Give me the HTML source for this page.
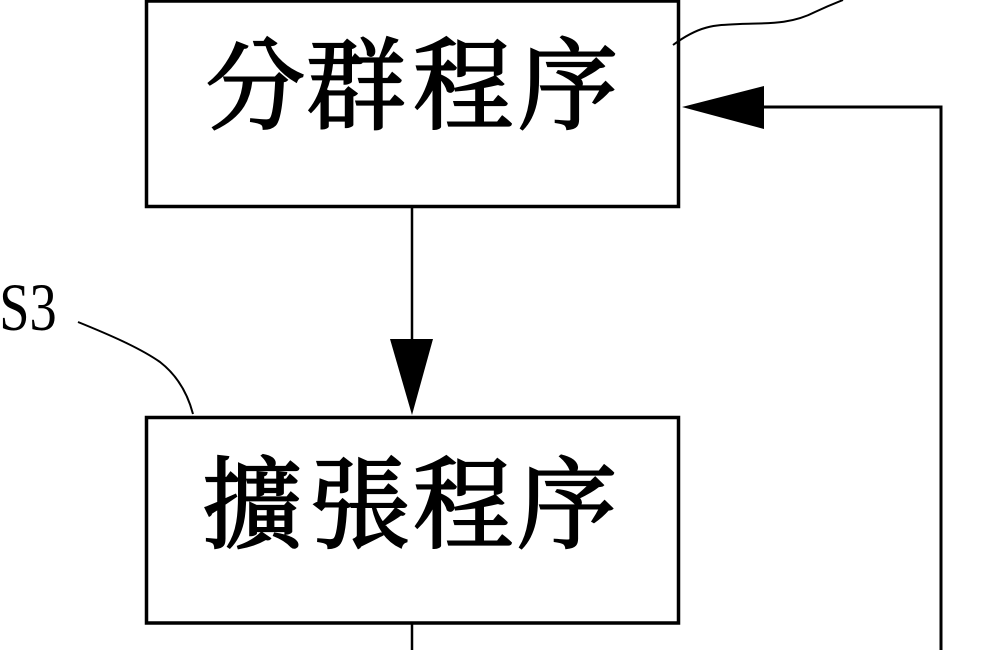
<!DOCTYPE html>
<html>
<head>
<meta charset="utf-8">
<style>
  html, body { margin: 0; padding: 0; background: #fff; }
  body { width: 994px; height: 650px; overflow: hidden; }
  svg { display: block; }
  .cjk { font-family: "Liberation Serif", "Noto Serif CJK TC", "Noto Serif CJK SC", serif; font-size: 100px; font-weight: 400; fill: #000; stroke: #000; stroke-width: 2.2px; }
  .lbl { font-family: "Liberation Serif", serif; font-size: 68px; fill: #000; }
</style>
</head>
<body>
<svg width="994" height="650" viewBox="0 0 994 650" xmlns="http://www.w3.org/2000/svg">
  <!-- Box 1 -->
  <rect x="146.5" y="1" width="532" height="205.5" fill="none" stroke="#000" stroke-width="3.5"/>
  <text class="cjk" x="205 306 413 518" y="121">分群程序</text>

  <!-- Leader top right -->
  <path d="M673,45 C700,25 715,25 740,24 C765,23 790,25 815,12 C830,5 838,2 843,0" fill="none" stroke="#000" stroke-width="2"/>

  <!-- Feedback line into box 1 -->
  <line x1="941" y1="650" x2="941" y2="107" stroke="#000" stroke-width="3"/>
  <line x1="942.5" y1="107" x2="760" y2="107" stroke="#000" stroke-width="3"/>
  <polygon points="682,107 764,86 764,129" fill="#000"/>

  <!-- Vertical arrow box1 -> box2 -->
  <line x1="412" y1="207" x2="412" y2="345" stroke="#000" stroke-width="2.5"/>
  <polygon points="390,339 433,339 412,415" fill="#000"/>

  <!-- S3 label -->
  <text class="lbl" x="-1" y="330" transform="scale(0.8,1)">S3</text>
  <path d="M78,322 C110,335 140,348 160,362 C178,376 188,395 193,414" fill="none" stroke="#000" stroke-width="2"/>

  <!-- Box 2 -->
  <rect x="146.5" y="417.5" width="532" height="205.5" fill="none" stroke="#000" stroke-width="3.5"/>
  <text class="cjk" x="202 310 413 517" y="540">擴張程序</text>

  <!-- line below box 2 -->
  <line x1="412" y1="624" x2="412" y2="650" stroke="#000" stroke-width="2.5"/>
</svg>
</body>
</html>
